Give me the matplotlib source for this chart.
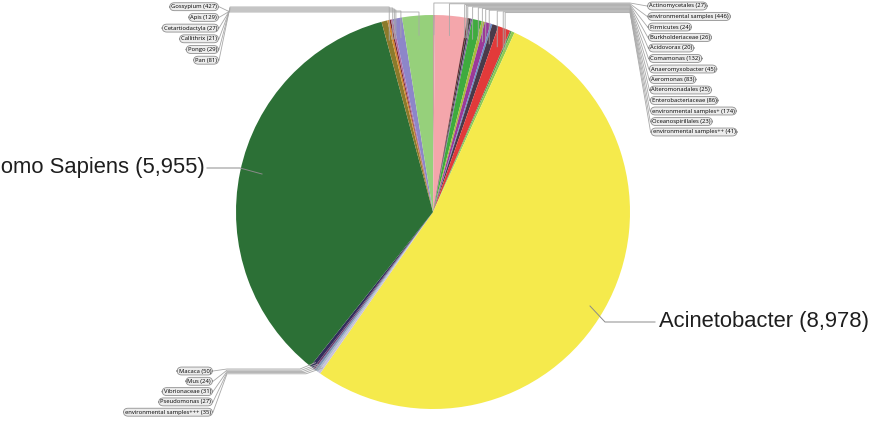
import numpy as np
import matplotlib
matplotlib.use('Agg')
import matplotlib.pyplot as plt

# slices, clockwise from 12 o'clock
names = ['Actinomycetales', 'environmental samples', 'Firmicutes', 'Burkholderiaceae',
         'Acidovorax', 'Comamonas', 'Anaeromyxobacter', 'Aeromonas', 'Alteromonadales',
         'Enterobacteriaceae', 'environmental samples+', 'Oceanospirillales',
         'environmental samples++', 'Acinetobacter', 'environmental samples+++',
         'Pseudomonas', 'Vibrionaceae', 'Mus', 'Macaca', 'Homo Sapiens', 'Pan', 'Pongo',
         'Callithrix', 'Cetartiodactyla', 'Apis', 'Gossypium']
counts = [27, 446, 24, 26, 20, 132, 45, 83, 25, 86, 174, 23, 41, 8978, 35, 27, 31, 24, 50,
          5955, 81, 29, 21, 27, 129, 427]
colors = ['#c9a0a0', '#f4a6ab', '#6b2f35', '#3c3c3c', '#7b5c9c', '#3eab3e', '#a9bb3c',
          '#9b3a98', '#6b8bc8', '#4a3a4a', '#e23a3a', '#5a9a5a', '#8ccb52', '#f5ea4c',
          '#c8c2da', '#a9b7c9', '#7a8fb0', '#6b3b6b', '#332d5c', '#2c7036', '#8b7a2b',
          '#d4882c', '#7a2a2a', '#b06aa0', '#8d86c9', '#96d07b']

right_group = names[:13]
bottom_group = ['Macaca', 'Mus', 'Vibrionaceae', 'Pseudomonas', 'environmental samples+++']
left_group = ['Gossypium', 'Apis', 'Cetartiodactyla', 'Callithrix', 'Pongo', 'Pan']

plt.rcParams['font.family'] = 'Open Sans'

fig = plt.figure(figsize=(8.8, 4.38), dpi=100)
ax = fig.add_axes([0, 0, 1, 1])

cx, cy, R = 433, 212, 197
wedges, _ = ax.pie(counts, colors=colors, startangle=-90, counterclock=True,
                   center=(cx, cy), radius=R, frame=True,
                   wedgeprops=dict(linewidth=0))
ax.set_xlim(0, 880)
ax.set_ylim(438, 0)
ax.set_aspect('equal')
ax.axis('off')

idx = {n: i for i, n in enumerate(names)}


def anchor(name, f=0.9):
    w = wedges[idx[name]]
    t = np.deg2rad((w.theta1 + w.theta2) / 2)
    return w.center[0] + f * w.r * np.cos(t), w.center[1] + f * w.r * np.sin(t)


line_kw = dict(color='#a8a8a8', lw=0.6, zorder=3)
box_kw = dict(boxstyle='round,pad=0.25,rounding_size=0.8', fc='#ececec', ec='#909090', lw=0.6)
lab_fs = 4.2


def label(n):
    return f'{n} ({counts[idx[n]]})'


# right side labels
for i, n in enumerate(right_group):
    ly = 6 + i * 10.5
    lx = 649 + i * 0.3
    ax0, ay0 = anchor(n)
    yh = 3 + i * 0.8
    ax.plot([ax0, ax0, 630, lx - 2], [ay0, yh, yh, ly], **line_kw)
    ax.text(lx, ly, label(n), ha='left', va='center', fontsize=lab_fs,
            bbox=box_kw, zorder=4)

# top left labels
for i, n in enumerate(left_group):
    ly = 6.7 + i * 10.7
    lx = 217
    ax0, ay0 = anchor(n)
    yh = 6 + (len(left_group) - i) * 1.0
    ax.plot([ax0, ax0, 230, lx + 2], [ay0, yh, yh, ly], **line_kw)
    ax.text(lx, ly, label(n), ha='right', va='center', fontsize=lab_fs,
            bbox=box_kw, zorder=4)

# bottom left labels
for i, n in enumerate(bottom_group):
    ly = 371 + i * 10.3
    lx = 211
    ax0, ay0 = anchor(n, 0.97)
    yh = 369 + i * 1.2
    ax.plot([ax0, 300 + i * 1.5, 227, lx + 2], [ay0, yh, yh, ly], **line_kw)
    ax.text(lx, ly, label(n), ha='right', va='center', fontsize=lab_fs,
            bbox=box_kw, zorder=4)

# big labels
ax.plot([207, 240, 262], [168, 168, 174], color='#8a8a8a', lw=0.7, zorder=3)
ax.text(205, 168, 'Homo Sapiens (5,955)', ha='right', va='center', fontsize=15.8,
        family='Liberation Sans', color='#1e1e1e')

ax.plot([655, 605, 590], [322, 322, 306], color='#8a8a8a', lw=0.7, zorder=3)
ax.text(659, 322, 'Acinetobacter (8,978)', ha='left', va='center', fontsize=15.8,
        family='Liberation Sans', color='#1e1e1e')

fig.savefig('out.png', dpi=100)
